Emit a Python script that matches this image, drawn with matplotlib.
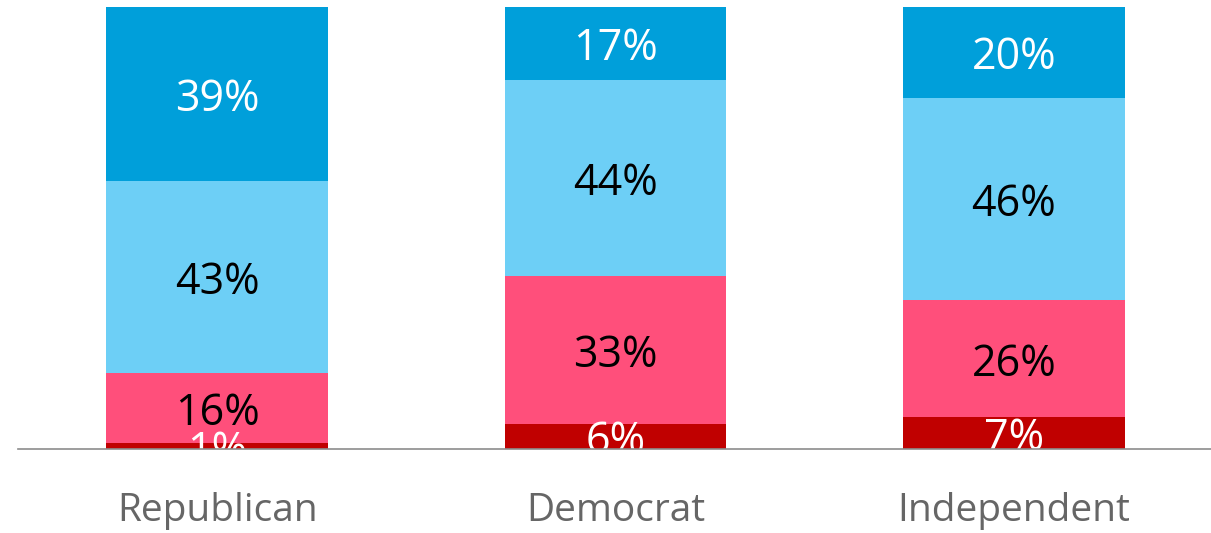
import matplotlib.pyplot as plt
import numpy as np

plt.rcParams['font.family'] = ['Open Sans', 'DejaVu Sans']

categories = ["Republican", "Democrat", "Independent"]
# stacked segments, bottom to top (percent)
seg_darkred = [1.4, 5.7, 7.2]
seg_pink = [15.8, 33.4, 26.4]
seg_lightblue = [43.4, 44.3, 45.9]
seg_blue = [39.4, 16.6, 20.5]

DARK_RED = "#C00000"
PINK = "#FF4F7B"
LIGHT_BLUE = "#6DCFF6"
BLUE = "#009FDA"
GREY_TEXT = "#666666"
GREY_LINE = "#8C8C8C"

segments = [seg_darkred, seg_pink, seg_lightblue, seg_blue]
colors = [DARK_RED, PINK, LIGHT_BLUE, BLUE]
text_colors = ["white", "black", "black", "white"]

fig = plt.figure(figsize=(12.11, 5.33), dpi=100)
ax = fig.add_axes([18 / 1211, 84 / 533, 1195 / 1211, 442 / 533])

x = np.arange(len(categories))
bottom = np.zeros(len(categories))
for vals, color, tcol in zip(segments, colors, text_colors):
    vals = np.array(vals)
    ax.bar(x, vals, bottom=bottom, width=0.557, color=color, edgecolor="none")
    for xi, b, v in zip(x, bottom, vals):
        # labels sit in the middle of each segment, clipped at the baseline
        ax.text(xi, b + v / 2, f"{v:.0f}%", ha="center", va="center_baseline",
                fontsize=31, color=tcol, clip_on=True, zorder=5)
    bottom += vals

ax.set_xlim(-0.5, 2.5)
ax.set_ylim(0, 100)
ax.set_yticks([])
ax.set_xticks(x)
ax.set_xticklabels(categories, fontsize=28, color=GREY_TEXT)
ax.tick_params(axis="x", length=0, pad=31)
for side in ["top", "right", "left"]:
    ax.spines[side].set_visible(False)
ax.spines["bottom"].set_color(GREY_LINE)
ax.spines["bottom"].set_linewidth(1.2)
ax.spines["bottom"].set_zorder(6)

fig.savefig("out.png", dpi=100)
